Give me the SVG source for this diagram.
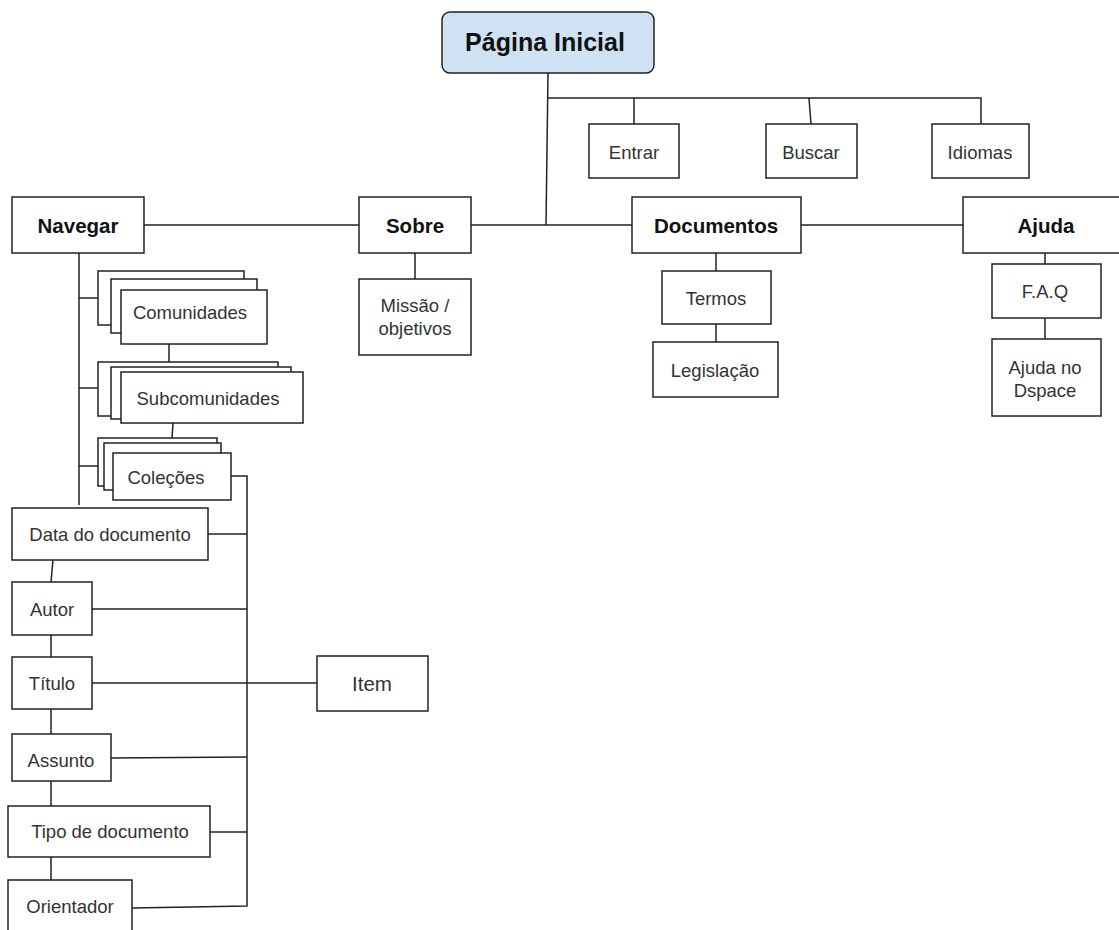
<svg xmlns="http://www.w3.org/2000/svg" width="1119" height="930" viewBox="0 0 1119 930">
<style>
rect{fill:#fff;stroke:#222;stroke-width:1.5}
.root{fill:#cfe2f3}
.c line,.c polyline{stroke:#222;stroke-width:1.5;fill:none}
text{font-family:"Liberation Sans",Arial,sans-serif;font-size:18.5px;fill:#333;text-anchor:middle;dominant-baseline:central}
.b{font-weight:bold;font-size:20.5px;fill:#111}
.t{font-size:25px}
</style>
<rect width="1119" height="930" style="fill:#fff;stroke:none"/>
<g class="c" id="connectors">
<line x1="548" y1="73" x2="546" y2="225"/>
<polyline points="548,98 981,98 981,124"/>
<line x1="634" y1="98" x2="634" y2="124"/>
<line x1="809" y1="98" x2="811" y2="124"/>
<line x1="144" y1="225" x2="359" y2="225"/>
<line x1="471" y1="225" x2="632" y2="225"/>
<line x1="801" y1="225" x2="963" y2="225"/>
<line x1="415" y1="253" x2="415" y2="279"/>
<line x1="716" y1="253" x2="716" y2="271"/>
<line x1="716" y1="324" x2="716" y2="342"/>
<line x1="1045" y1="251" x2="1045" y2="264"/>
<line x1="1045" y1="318" x2="1045" y2="339"/>
<line x1="79" y1="253" x2="79" y2="505"/>
<line x1="79" y1="298" x2="98" y2="298"/>
<line x1="79" y1="388" x2="98" y2="388"/>
<line x1="79" y1="466" x2="98" y2="466"/>
<line x1="169" y1="344" x2="169" y2="362"/>
<line x1="173" y1="423" x2="171" y2="453"/>
<polyline points="231,476 247,476 247,906 132,908"/>
<line x1="208" y1="534" x2="247" y2="534"/>
<line x1="92" y1="609" x2="247" y2="609"/>
<line x1="92" y1="683" x2="317" y2="683"/>
<line x1="111" y1="758" x2="247" y2="757"/>
<line x1="210" y1="832" x2="247" y2="832"/>
<line x1="53" y1="560" x2="51" y2="582"/>
<line x1="51" y1="635" x2="51" y2="657"/>
<line x1="51" y1="709" x2="51" y2="734"/>
<line x1="51" y1="781" x2="51" y2="806"/>
<line x1="51" y1="857" x2="51" y2="880"/>
</g>
<g id="pagina-inicial"><rect class="root" x="442" y="12" width="212" height="61" rx="8"/><text class="b t" x="545" y="42">Página Inicial</text></g>
<g id="entrar"><rect x="589" y="124" width="90" height="54"/><text x="634" y="152">Entrar</text></g>
<g id="buscar"><rect x="766" y="124" width="91" height="54"/><text x="811" y="152">Buscar</text></g>
<g id="idiomas"><rect x="932" y="124" width="97" height="54"/><text x="980" y="152">Idiomas</text></g>
<g id="navegar"><rect x="12" y="197" width="132" height="56"/><text class="b" x="78" y="225">Navegar</text></g>
<g id="sobre"><rect x="359" y="197" width="112" height="56"/><text class="b" x="415" y="225">Sobre</text></g>
<g id="documentos"><rect x="632" y="197" width="169" height="56"/><text class="b" x="716" y="225">Documentos</text></g>
<g id="ajuda"><rect x="963" y="197" width="170" height="56"/><text class="b" x="1046" y="225">Ajuda</text></g>
<g id="missao"><rect x="359" y="279" width="112" height="76"/><text x="415" y="305">Missão /</text><text x="415" y="328">objetivos</text></g>
<g id="termos"><rect x="662" y="271" width="109" height="53"/><text x="716" y="298">Termos</text></g>
<g id="legislacao"><rect x="653" y="342" width="125" height="55"/><text x="715" y="370">Legislação</text></g>
<g id="faq"><rect x="992" y="264" width="109" height="54"/><text x="1045" y="291">F.A.Q</text></g>
<g id="ajuda-dspace"><rect x="992" y="339" width="109" height="77"/><text x="1045" y="367">Ajuda no</text><text x="1045" y="390">Dspace</text></g>
<g id="comunidades"><rect x="98" y="271" width="146" height="54"/><rect x="111" y="279" width="146" height="54"/><rect x="121" y="290" width="146" height="54"/><text x="190" y="312">Comunidades</text></g>
<g id="subcomunidades"><rect x="98" y="362" width="180" height="54"/><rect x="111" y="367" width="180" height="52"/><rect x="121" y="372" width="182" height="51"/><text x="208" y="398">Subcomunidades</text></g>
<g id="colecoes"><rect x="98" y="438" width="119" height="48"/><rect x="104" y="443" width="117" height="47"/><rect x="113" y="453" width="118" height="47"/><text x="166" y="477">Coleções</text></g>
<g id="data"><rect x="12" y="508" width="196" height="52"/><text x="110" y="534">Data do documento</text></g>
<g id="autor"><rect x="12" y="582" width="80" height="53"/><text x="52" y="609">Autor</text></g>
<g id="titulo"><rect x="12" y="657" width="80" height="52"/><text x="52" y="683">Título</text></g>
<g id="assunto"><rect x="12" y="734" width="99" height="47"/><text x="61" y="760">Assunto</text></g>
<g id="tipo"><rect x="8" y="806" width="202" height="51"/><text x="110" y="831">Tipo de documento</text></g>
<g id="orientador"><rect x="8" y="880" width="124" height="60"/><text x="70" y="906">Orientador</text></g>
<g id="item"><rect x="317" y="656" width="111" height="55"/><text x="372" y="683" style="font-size:20.5px">Item</text></g>
</svg>
